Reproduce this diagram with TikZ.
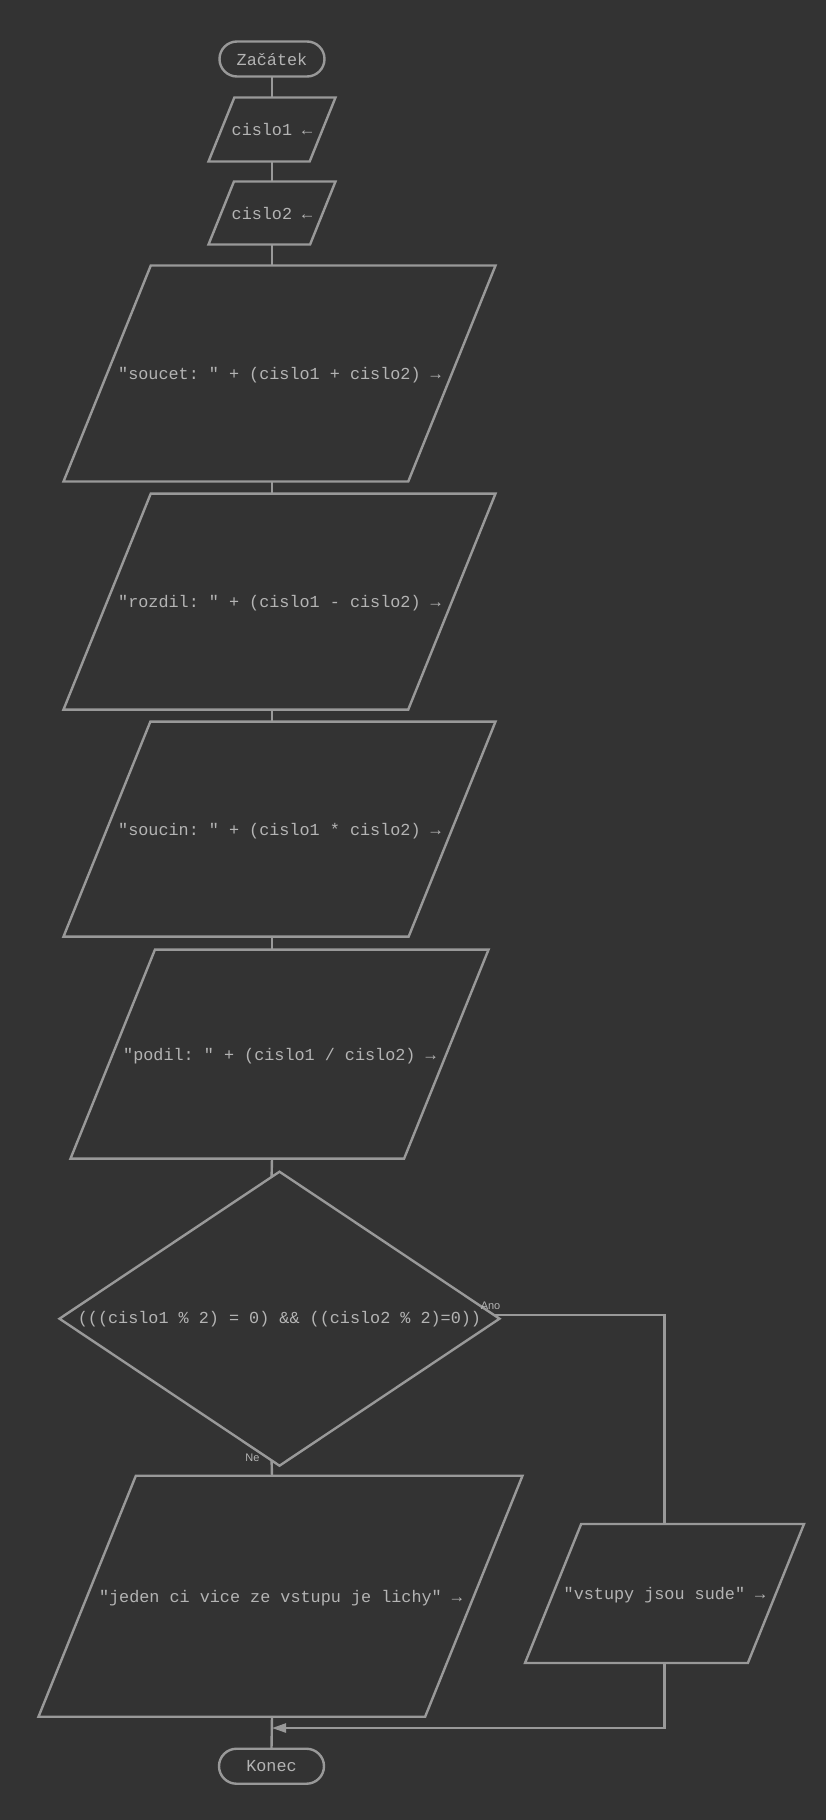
\documentclass[tikz,border=0pt]{standalone}
\usepackage{fontspec}
\setmonofont{Liberation Mono}
\setsansfont{Liberation Sans}
\usepackage{tikz}
\usetikzlibrary{positioning,shapes.geometric,arrows.meta,calc}
\definecolor{bgcol}{HTML}{333333}
\definecolor{linecol}{HTML}{999999}
\definecolor{textcol}{HTML}{B4B4B4}
\tikzstyle{flow}=[draw=linecol,line width=2.4pt,text=textcol,font=\ttfamily\fontsize{16.8}{20}\selectfont,inner sep=0pt,outer sep=0pt]
\tikzstyle{terminal}=[flow,rectangle,rounded corners=17.5pt,minimum width=105pt,minimum height=35pt]
\tikzstyle{io}=[flow,trapezium,trapezium left angle=68,trapezium right angle=112,trapezium stretches body]
\tikzstyle{decision}=[flow,diamond,aspect=1.5,inner sep=2pt,minimum width=440pt,minimum height=294pt]
\tikzstyle{branch}=[text=textcol,font=\sffamily\fontsize{11}{13}\selectfont,inner sep=0pt]
\tikzstyle{wire}=[draw=linecol,line width=2.4pt]
\tikzset{iosize/.style n args={3}{minimum width=#1pt,text height=#2pt,text depth=#3pt}}

\begin{document}
\begin{tikzpicture}[x=1pt,y=-1pt]
            \path[use as bounding box,fill=bgcol] (0,0) rectangle (826,1820);
            % main column
            \node[terminal] (start) at (272,59) {Začátek};
            \node[io,iosize={127}{38}{26},below=21pt of start] (cislo1) {\makebox[0pt]{cislo1 ←}};
            \node[io,iosize={127}{37.5}{25.5},below=20pt of cislo1] (cislo2) {\makebox[0pt]{cislo2 ←}};
            \node[io,iosize={432}{114}{102},below=21pt of cislo2,xshift=7.5pt] (soucet) {\makebox[0pt]{"soucet: " + (cislo1 + cislo2) →}};
            \node[io,iosize={432}{114}{102},below=12pt of soucet] (rozdil) {\makebox[0pt]{"rozdil: " + (cislo1 - cislo2) →}};
            \node[io,iosize={432}{113.5}{101.5},below=12pt of rozdil] (soucin) {\makebox[0pt]{"soucin: " + (cislo1 * cislo2) →}};
            \node[io,iosize={418}{110.5}{98.5},below=13pt of soucin] (podil) {\makebox[0pt]{"podil: " + (cislo1 / cislo2) →}};
            \node[decision,below=13pt of podil] (dec) {(((cislo1 \% 2) = 0) \&\& ((cislo2 \% 2)=0))};
            \node[io,iosize={484}{126.5}{114.5},below=10pt of dec,xshift=1pt] (lichy) {\makebox[0pt]{"jeden ci vice ze vstupu je lichy" →}};
            \node[io,iosize={279}{75.5}{63.5}] (sude) at (664.5,1593.5) {\makebox[0pt]{"vstupy jsou sude" →}};
            \node[terminal,below=32pt of lichy,xshift=-9pt] (end) {Konec};
            \coordinate (merge) at (272,1728);
            % connectors
            \draw[wire] (start.south) -- (cislo1.north);
            \draw[wire] (cislo1.south) -- (cislo2.north);
            \draw[wire] (cislo2.south) -- (cislo2.south |- soucet.north);
            \draw[wire] (soucet.south -| start) -- (rozdil.north -| start);
            \draw[wire] (rozdil.south -| start) -- (soucin.north -| start);
            \draw[wire] (soucin.south -| start) -- (podil.north -| start);
            \draw[wire] (podil.south -| start) -- ($(dec.north)!0.036!(dec.west)$);
            \draw[wire] ($(dec.south)!0.036!(dec.west)$)
                node[branch,anchor=east,xshift=-11pt,yshift=3pt] {Ne}
                -- (lichy.north -| start);
            \draw[wire] ($(dec.east)!0.027!(dec.north)$)
                node[branch,anchor=south,xshift=-3pt,yshift=4pt] {Ano}
                -| (sude.north);
            \draw[wire] (lichy.south -| start) -- (end.north);
            \draw[wire,-{Triangle[length=14pt,width=9pt]}] (sude.south) |- (merge);
\end{tikzpicture}
\end{document}
